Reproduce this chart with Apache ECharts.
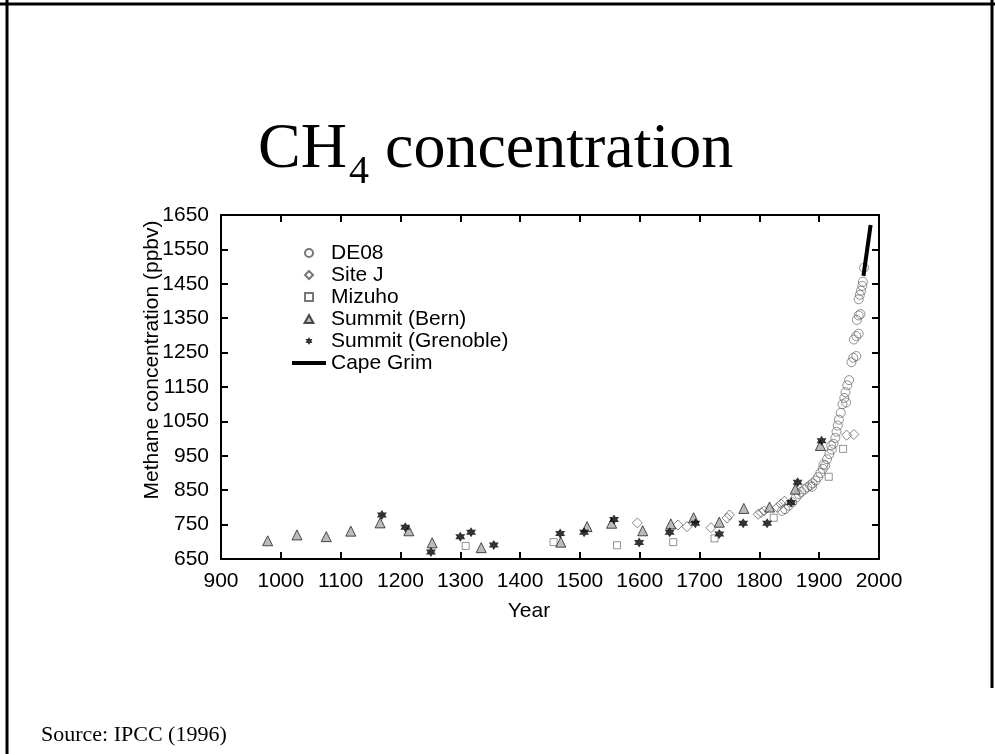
<!DOCTYPE html>
<html>
<head>
<meta charset="utf-8">
<title>CH4 concentration</title>
<script src="https://cdn.jsdelivr.net/npm/echarts@6/dist/echarts.min.js"></script>
<style>
  html, body { margin: 0; padding: 0; background: #fff; }
  #chart { width: 995px; height: 754px; }
</style>
</head>
<body>
<div id="chart"></div>
<script>
// tick labels
const yTicks = [650, 750, 850, 950, 1050, 1150, 1250, 1350, 1450, 1550, 1650];

// [year, ppbv]
const de08 = [
  [1838, 790], [1843, 795], [1849, 805], [1855, 815], [1861, 828], [1866, 838],
  [1870, 845], [1875, 852], [1880, 858], [1885, 864], [1888, 860], [1889, 870],
  [1894, 878], [1898, 888], [1902, 900], [1906, 912], [1907, 925], [1910, 922],
  [1913, 940], [1917, 955], [1920, 980], [1921, 968], [1924, 985], [1927, 1002],
  [1929, 1020], [1931, 1038], [1933, 1055], [1936, 1075], [1939, 1100], [1945, 1105],
  [1942, 1118], [1944, 1135], [1947, 1155], [1950, 1170], [1954, 1222], [1957, 1235],
  [1962, 1240], [1958, 1288], [1962, 1298], [1966, 1305], [1963, 1345], [1966, 1358],
  [1969, 1362], [1966, 1405], [1968, 1418], [1970, 1430], [1972, 1444], [1973, 1456],
  [1975, 1497]
];
const siteJ = [
  [1596, 755], [1664, 749], [1679, 744], [1719, 741], [1746, 769], [1750, 778],
  [1798, 780], [1803, 785], [1808, 790], [1830, 800], [1836, 810], [1842, 818],
  [1946, 1010], [1958, 1012]
];
const mizuho = [
  [1309, 688], [1456, 699], [1562, 690], [1656, 699], [1725, 710], [1824, 770],
  [1916, 889], [1940, 970]
];
const summitBern = [
  [978, 703], [1027, 720], [1076, 715], [1117, 731], [1166, 755], [1214, 732],
  [1253, 697], [1335, 683], [1468, 699], [1512, 744], [1553, 754], [1605, 732],
  [1652, 752], [1690, 770], [1733, 757], [1774, 797], [1817, 801], [1860, 853],
  [1902, 980]
];
const summitGrenoble = [
  [1169, 778], [1208, 742], [1251, 670], [1300, 715], [1318, 728], [1356, 691],
  [1467, 724], [1507, 728], [1557, 765], [1599, 698], [1650, 728], [1693, 754],
  [1733, 723], [1773, 754], [1813, 754], [1853, 814], [1864, 873], [1904, 994]
];
const capeGrim = [[1974, 1473], [1986, 1621]];

const SANS = "'Liberation Sans', Arial, Helvetica, sans-serif";
const SERIF = "'Liberation Serif', 'Times New Roman', serif";
// marker shapes as paths so the legend keeps their aspect
const STAR6 = 'path://M50 0 L64.4 25 L93.3 25 L78.9 50 L93.3 75 L64.4 75 L50 100 L35.6 75 L6.7 75 L21.1 50 L6.7 25 L35.6 25 Z';
const DIAMOND = 'path://M5 0 L10 5 L5 10 L0 5 Z';
const TRIANGLE = 'path://M5 0 L10 9 L0 9 Z';
const SQUARE = 'path://M0 0 H10 V10 H0 Z';

const axisLine = { lineStyle: { color: '#000', width: 2 } };
const axisTick = { inside: true, length: 7, lineStyle: { color: '#000', width: 2 } };
const axisLabel = { color: '#000', fontFamily: SANS, fontSize: 21, formatter: (v) => String(v) };

const myChart = echarts.init(document.getElementById('chart'));
myChart.setOption({
  animation: false,
  backgroundColor: '#fff',
  grid: { left: 221, right: 116, top: 215, bottom: 195, containLabel: false },
  legend: {
    orient: 'vertical',
    left: 292,
    top: 242,
    padding: 0,
    itemWidth: 34,
    itemHeight: 8,
    itemGap: 0,
    itemTextGap: 7,
    symbolKeepAspect: true,
    selectedMode: false,
    textStyle: { color: '#000', fontFamily: SANS, fontSize: 21, lineHeight: 22 },
    data: [
      { name: 'DE08', icon: 'circle' },
      { name: 'Site J', icon: DIAMOND },
      { name: 'Mizuho', icon: SQUARE },
      { name: 'Summit (Bern)', icon: TRIANGLE },
      { name: 'Summit (Grenoble)', icon: STAR6 },
      { name: 'Cape Grim', icon: 'path://M0 0 H34 V4 H0 Z' }
    ]
  },
  xAxis: [
    {
      type: 'value', position: 'bottom', min: 900, max: 2000, interval: 100,
      axisLine, axisTick, splitLine: { show: false },
      axisLabel: Object.assign({ margin: 12 }, axisLabel)
    },
    {
      type: 'value', position: 'top', min: 900, max: 2000, interval: 100,
      axisLine, axisTick, splitLine: { show: false }, axisLabel: { show: false }
    }
  ],
  yAxis: [
    {
      type: 'value', position: 'left', min: 650, max: 1650,
      axisLine: Object.assign({ show: true }, axisLine),
      axisTick: Object.assign({ customValues: yTicks }, axisTick),
      splitLine: { show: false },
      axisLabel: Object.assign({ margin: 12, customValues: yTicks }, axisLabel)
    },
    {
      type: 'value', position: 'right', min: 650, max: 1650,
      axisLine: Object.assign({ show: true }, axisLine),
      axisTick: Object.assign({ customValues: yTicks }, axisTick),
      splitLine: { show: false }, axisLabel: { show: false }
    }
  ],
  series: [
    {
      name: 'DE08', type: 'scatter', data: de08, symbol: 'circle', symbolSize: 9,
      itemStyle: { color: 'rgba(255,255,255,0)', borderColor: '#555', borderWidth: 0.8 }
    },
    {
      name: 'Site J', type: 'scatter', data: siteJ, symbol: 'diamond', symbolSize: 10,
      itemStyle: { color: 'rgba(255,255,255,0)', borderColor: '#555', borderWidth: 0.9 }
    },
    {
      name: 'Mizuho', type: 'scatter', data: mizuho, symbol: 'rect', symbolSize: 7,
      itemStyle: { color: 'rgba(255,255,255,0)', borderColor: '#555', borderWidth: 0.8 }
    },
    {
      name: 'Summit (Bern)', type: 'scatter', data: summitBern, symbol: 'triangle', symbolSize: 10,
      itemStyle: { color: '#aaa', borderColor: '#222', borderWidth: 1 }
    },
    {
      name: 'Summit (Grenoble)', type: 'scatter', data: summitGrenoble, symbol: STAR6, symbolSize: 10,
      itemStyle: { color: '#000' }
    },
    {
      name: 'Cape Grim', type: 'line', data: capeGrim, symbol: 'none',
      lineStyle: { color: '#000', width: 4 }, itemStyle: { color: '#000' }
    }
  ],
  graphic: [
    // slide frame
    { type: 'line', shape: { x1: 7, y1: 0, x2: 7, y2: 754 }, style: { stroke: '#000', lineWidth: 3 } },
    { type: 'line', shape: { x1: 0, y1: 4, x2: 995, y2: 4 }, style: { stroke: '#000', lineWidth: 3 } },
    { type: 'line', shape: { x1: 992, y1: 0, x2: 992, y2: 688 }, style: { stroke: '#000', lineWidth: 3 } },
    // title with subscript
    { type: 'text', x: 258, y: 150, style: { text: 'CH', fontFamily: SERIF, fontSize: 64, fill: '#000', align: 'left', verticalAlign: 'middle' } },
    { type: 'text', x: 349, y: 172, style: { text: '4', fontFamily: SERIF, fontSize: 40, fill: '#000', align: 'left', verticalAlign: 'middle' } },
    { type: 'text', x: 369, y: 150, style: { text: ' concentration', fontFamily: SERIF, fontSize: 64, fill: '#000', align: 'left', verticalAlign: 'middle' } },
    // axis names
    { type: 'text', x: 152, y: 360, rotation: Math.PI / 2, style: { text: 'Methane concentration (ppbv)', fontFamily: SANS, fontSize: 21, fill: '#000', align: 'center', verticalAlign: 'middle' } },
    { type: 'text', x: 529, y: 611, style: { text: 'Year', fontFamily: SANS, fontSize: 21, fill: '#000', align: 'center', verticalAlign: 'middle' } },
    // source
    { type: 'text', x: 41, y: 735, style: { text: 'Source: IPCC (1996)', fontFamily: SERIF, fontSize: 22, fill: '#000', align: 'left', verticalAlign: 'middle' } }
  ]
});
</script>
</body>
</html>
